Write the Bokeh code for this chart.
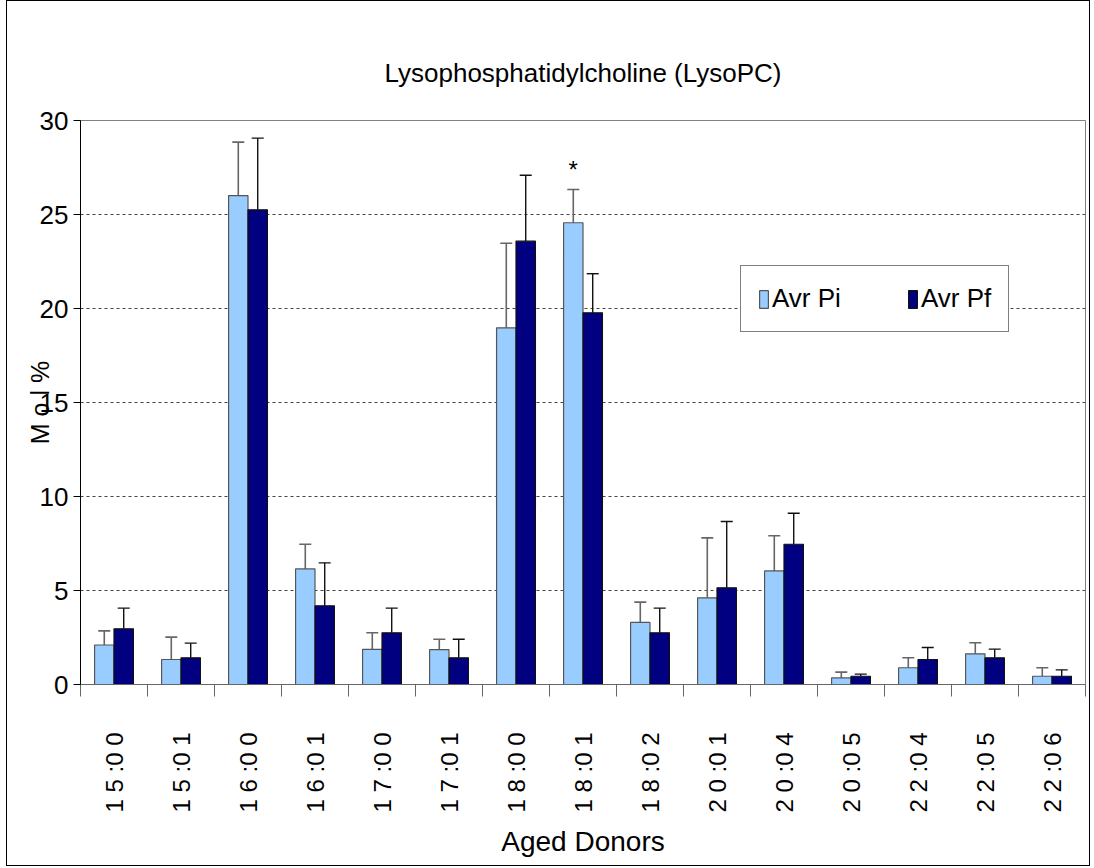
import numpy as np
from bokeh.plotting import figure
from bokeh.models import ColumnDataSource, FixedTicker, Whisker, TeeHead, Legend, LegendItem
from bokeh.embed import file_html
from bokeh.resources import INLINE

categories = ["15:00", "15:01", "16:00", "16:01", "17:00", "17:01", "18:00", "18:01",
              "18:02", "20:01", "20:04", "20:05", "22:04", "22:05", "22:06"]
avr_pi = [2.10, 1.33, 26.00, 6.15, 1.87, 1.85, 18.97, 24.56, 3.30, 4.61, 6.04, 0.35, 0.89, 1.63, 0.44]
avr_pi_err_top = [2.85, 2.52, 28.85, 7.46, 2.75, 2.41, 23.47, 26.33, 4.38, 7.80, 7.91, 0.66, 1.42, 2.22, 0.89]
avr_pf = [2.96, 1.42, 25.25, 4.19, 2.75, 1.42, 23.58, 19.77, 2.75, 5.14, 7.46, 0.44, 1.33, 1.42, 0.44]
avr_pf_err_top = [4.06, 2.20, 29.06, 6.47, 4.06, 2.41, 27.09, 21.85, 4.06, 8.67, 9.11, 0.55, 1.97, 1.88, 0.78]
y_ticks = [0, 5, 10, 15, 20, 25, 30]
significant = ["18:01"]
series_names = ["Avr Pi", "Avr Pf"]

FONT = "'Liberation Sans Narrow', 'Arial Narrow', 'Liberation Sans', sans-serif"
BAR_W = 0.29

n = len(categories)
centers = np.arange(n) + 0.5
src_pi = ColumnDataSource(dict(x=centers - BAR_W / 2, top=avr_pi, up=avr_pi_err_top, cat=categories))
src_pf = ColumnDataSource(dict(x=centers + BAR_W / 2, top=avr_pf, up=avr_pf_err_top, cat=categories))

p = figure(width=1084, height=866, x_range=(0, n), y_range=(0, 30),
           output_backend="svg", toolbar_location=None,
           min_border_left=73, min_border_right=6, min_border_top=119, min_border_bottom=183,
           title="Lysophosphatidylcholine (LysoPC)")
p.styles = {"border": "1px solid black", "margin-left": "6px"}
p.outline_line_color = "#808080"
p.background_fill_color = "white"
p.border_fill_color = "white"

p.title.align = "center"
p.title.text_font = FONT
p.title.text_font_size = "26px"
p.title.text_font_style = "normal"
p.title.text_color = "black"
p.title.standoff = 66

r_pi = p.vbar(x="x", top="top", width=BAR_W, source=src_pi,
              fill_color="#99CCFF", line_color="#555555", line_width=1.2)
r_pf = p.vbar(x="x", top="top", width=BAR_W, source=src_pf,
              fill_color="#000080", line_color="#111111", line_width=1.2)

p.add_layout(Whisker(base="x", lower="top", upper="up", source=src_pi,
                     line_color="#666666", line_width=1.6, lower_head=None,
                     upper_head=TeeHead(size=12, line_color="#666666", line_width=1.6)))
p.add_layout(Whisker(base="x", lower="top", upper="up", source=src_pf,
                     line_color="#111111", line_width=1.4, lower_head=None,
                     upper_head=TeeHead(size=12, line_color="#111111", line_width=1.4)))

sig_idx = [categories.index(c) for c in significant]
sig_src = ColumnDataSource(dict(x=[centers[i] - BAR_W / 2 for i in sig_idx],
                                y=[avr_pi_err_top[i] for i in sig_idx], t=["*"] * len(sig_idx)))
p.text(x="x", y="y", text="t", source=sig_src, text_align="center", text_baseline="middle",
       y_offset=-20, text_font_size="24px", text_color="black")

# axes
p.yaxis.ticker = FixedTicker(ticks=y_ticks)
p.yaxis.axis_label = "M o l %"
p.yaxis.axis_label_text_font = FONT
p.yaxis.axis_label_text_font_size = "25px"
p.yaxis.axis_label_text_font_style = "normal"
p.yaxis.axis_label_text_color = "black"
p.yaxis.axis_label_standoff = -17
p.yaxis.major_label_text_font = FONT
p.yaxis.major_label_text_font_size = "26px"
p.yaxis.major_label_text_color = "black"
p.yaxis.major_label_standoff = 5
p.yaxis.major_tick_out = 7
p.yaxis.major_tick_in = 0
p.yaxis.minor_tick_out = 0
p.yaxis.minor_tick_in = 0
p.yaxis.axis_line_color = "black"
p.yaxis.major_tick_line_color = "black"

p.xaxis.ticker = FixedTicker(ticks=list(centers), minor_ticks=list(range(n + 1)))
p.xaxis.major_label_overrides = {float(c): f"{s[0]} {s[1]} :{s[3]} {s[4]}" for c, s in zip(centers, categories)}
p.xaxis.major_label_orientation = np.pi / 2
p.xaxis.major_label_text_font = FONT
p.xaxis.major_label_text_font_size = "24px"
p.xaxis.major_label_text_color = "black"
p.xaxis.major_label_standoff = 36
p.xaxis.major_tick_out = 0
p.xaxis.major_tick_in = 0
p.xaxis.minor_tick_out = 12
p.xaxis.minor_tick_in = 0
p.xaxis.minor_tick_line_color = "#666666"
p.xaxis.axis_line_color = "#666666"
p.xaxis.axis_label = "Aged Donors"
p.xaxis.axis_label_text_font = FONT
p.xaxis.axis_label_text_font_size = "28px"
p.xaxis.axis_label_text_font_style = "normal"
p.xaxis.axis_label_text_color = "black"
p.xaxis.axis_label_standoff = 10

p.xgrid.grid_line_color = None
p.ygrid.ticker = FixedTicker(ticks=y_ticks)
p.ygrid.grid_line_color = "#444444"
p.ygrid.grid_line_dash = "3 3"
p.ygrid.grid_line_width = 1

legend = Legend(items=[LegendItem(label=series_names[0], renderers=[r_pi]),
                       LegendItem(label=series_names[1], renderers=[r_pf])],
                location=(660, 352), orientation="horizontal",
                glyph_width=11, glyph_height=22, padding=17, spacing=66, label_standoff=3,
                label_text_font=FONT, label_text_font_size="26px", label_text_color="black",
                border_line_color="black", border_line_width=1.2,
                background_fill_color="white", background_fill_alpha=1.0, margin=0)
p.add_layout(legend, "center")

open("out.html", "w").write(file_html(p, INLINE))
